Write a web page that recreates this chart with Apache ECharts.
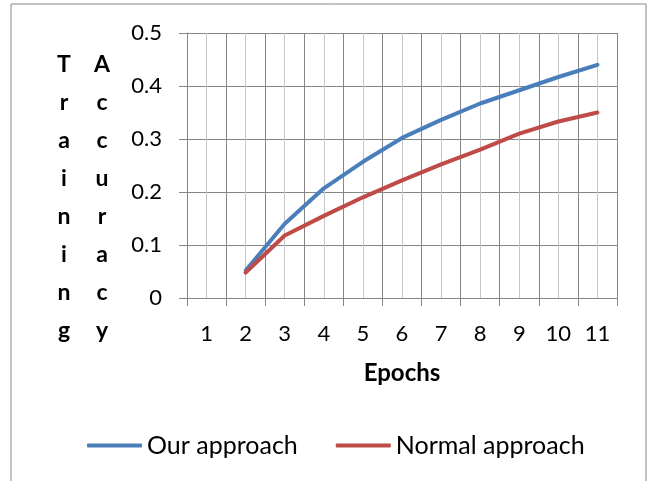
<!DOCTYPE html>
<html>
<head>
<meta charset="utf-8">
<script src="https://cdn.jsdelivr.net/npm/echarts@6/dist/echarts.min.js"></script>
<style>
  html, body { margin: 0; padding: 0; background: #fff; }
  #chart { width: 654px; height: 481px; }
</style>
</head>
<body>
<div id="chart"></div>
<script>
const epochs = ["1", "2", "3", "4", "5", "6", "7", "8", "9", "10", "11"];
const ourApproach = [null, 0.052, 0.14, 0.207, 0.257, 0.302, 0.336, 0.367, 0.392, 0.417, 0.44];
const normalApproach = [null, 0.048, 0.118, 0.155, 0.19, 0.222, 0.252, 0.28, 0.31, 0.333, 0.35];
const yTitleFirst = "Training";
const yTitleSecond = "Accuracy";

const gridColor = "#868686";
const minorColor = "#c6c6c6";
const font = "Lato";

const chart = echarts.init(document.getElementById("chart"));

const option = {
  animation: false,
  grid: { left: 187, right: 37, top: 33, bottom: 183, containLabel: false },
  legend: {
    left: 82,
    top: 428,
    icon: "roundRect",
    itemWidth: 55,
    itemHeight: 4,
    itemGap: 38,
    textStyle: { fontFamily: font, fontSize: 25, color: "#000" },
    data: ["Our approach", "Normal approach"],
  },
  xAxis: [
    {
      type: "category",
      data: epochs,
      name: "Epochs",
      nameLocation: "middle",
      nameGap: 63,
      nameTextStyle: { fontFamily: font, fontSize: 24, fontWeight: "bold", color: "#000" },
      axisLine: { lineStyle: { color: gridColor } },
      axisTick: { show: true, length: 8, lineStyle: { color: gridColor } },
      axisLabel: { margin: 25, fontFamily: font, fontSize: 22, lineHeight: 22, color: "#000" },
      splitLine: { show: false },
    },
    {
      // only draws the vertical grid (category borders + centres)
      type: "value",
      position: "bottom",
      min: 0,
      max: 11,
      interval: 1,
      axisLine: { show: false },
      axisTick: { show: false },
      axisLabel: { show: false },
      splitLine: { show: true, lineStyle: { color: gridColor } },
      minorTick: { show: false, splitNumber: 2 },
      minorSplitLine: { show: true, lineStyle: { color: minorColor } },
    },
  ],
  yAxis: {
    type: "value",
    min: 0,
    max: 0.5,
    interval: 0.1,
    axisLine: { show: true, lineStyle: { color: gridColor } },
    axisTick: { show: true, length: 8, lineStyle: { color: gridColor } },
    axisLabel: { margin: 25, fontFamily: font, fontSize: 22, color: "#000" },
    splitLine: { lineStyle: { color: gridColor } },
  },
  graphic: [
    {
      type: "rect",
      shape: { x: 11, y: 4, width: 635, height: 520 },
      style: { fill: "none", stroke: "#868686", lineWidth: 1 },
      silent: true,
    },
    {
      type: "text",
      x: 64,
      y: 46,
      style: {
        text: yTitleFirst.split("").join("\n"),
        font: "bold 23px Lato",
        fill: "#000",
        textAlign: "center",
        lineHeight: 38,
      },
    },
    {
      type: "text",
      x: 102,
      y: 46,
      style: {
        text: yTitleSecond.split("").join("\n"),
        font: "bold 23px Lato",
        fill: "#000",
        textAlign: "center",
        lineHeight: 38,
      },
    },
  ],
  series: [
    {
      name: "Our approach",
      type: "line",
      data: ourApproach,
      symbol: "none",
      itemStyle: { color: "#4a7ebb" },
      lineStyle: { width: 4, color: "#4a7ebb", cap: "round", join: "round" },
    },
    {
      name: "Normal approach",
      type: "line",
      data: normalApproach,
      symbol: "none",
      itemStyle: { color: "#be4b48" },
      lineStyle: { width: 4, color: "#be4b48", cap: "round", join: "round" },
    },
  ],
};

chart.setOption(option);
</script>
</body>
</html>
